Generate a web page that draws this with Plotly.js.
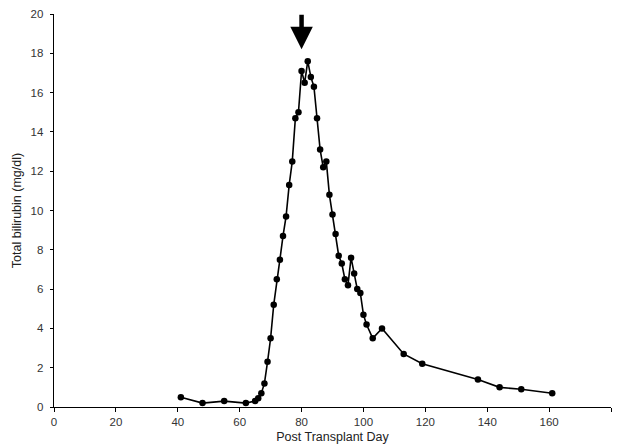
<!DOCTYPE html>
<html>
<head>
<meta charset="utf-8">
<script src="https://cdn.plot.ly/plotly-3.0.1.min.js"></script>
<style>html,body{margin:0;padding:0;background:#fff;}#chart{width:620px;height:448px;}</style>
</head>
<body>
<div id="chart"></div>
<script>
var days = [41, 48, 55, 62, 65, 66, 67, 68, 69, 70, 71, 72, 73, 74, 75, 76, 77, 78, 79, 80, 81, 82, 83, 84, 85, 86, 87, 88, 89, 90, 91, 92, 93, 94, 95, 96, 97, 98, 99, 100, 101, 103, 106, 113, 119, 137, 144, 151, 161];
var bilirubin = [0.5, 0.2, 0.3, 0.2, 0.3, 0.45, 0.7, 1.2, 2.3, 3.5, 5.2, 6.5, 7.5, 8.7, 9.7, 11.3, 12.5, 14.7, 15.0, 17.1, 16.5, 17.6, 16.8, 16.3, 14.7, 13.1, 12.2, 12.5, 10.8, 9.8, 8.8, 7.7, 7.3, 6.5, 6.2, 7.6, 6.8, 6.0, 5.8, 4.7, 4.2, 3.5, 4.0, 2.7, 2.2, 1.4, 1.0, 0.9, 0.7];
var xTicks = [0, 20, 40, 60, 80, 100, 120, 140, 160, 180];
var yTicks = [0, 2, 4, 6, 8, 10, 12, 14, 16, 18, 20];
var arrowDay = 80;
var arrowTip = 18.2;

var trace = {
  x: days, y: bilirubin, type: 'scatter', mode: 'lines+markers',
  line: {color: '#000', width: 1.6},
  marker: {color: '#000', size: 6.5},
  cliponaxis: false, hoverinfo: 'none'
};
var ff = 'Liberation Sans, Arial, sans-serif';
var layout = {
  width: 620, height: 448,
  margin: {l: 54, r: 9, t: 14, b: 41},
  paper_bgcolor: '#fff', plot_bgcolor: '#fff',
  showlegend: false,
  font: {family: ff, size: 11.5, color: '#333'},
  xaxis: {
    range: [0, 180], tickvals: xTicks, ticktext: xTicks.map(String),
    showline: true, linecolor: '#000', linewidth: 1.3,
    ticks: 'outside', ticklen: 4, tickcolor: '#000', showgrid: false, zeroline: false,
    tickfont: {family: ff, size: 11.5, color: '#333'},
    title: {text: 'Post Transplant Day', font: {family: ff, size: 12.5, color: '#222'}, standoff: 5}
  },
  yaxis: {
    range: [0, 20], tickvals: yTicks, ticktext: yTicks.map(String),
    showline: true, linecolor: '#000', linewidth: 1.3,
    ticks: 'outside', ticklen: 3, tickcolor: '#000', showgrid: false, zeroline: false,
    ticklabelstandoff: 4,
    tickfont: {family: ff, size: 11.5, color: '#333'},
    title: {text: 'Total bilirubin (mg/dl)', font: {family: ff, size: 12.5, color: '#222'}, standoff: 6}
  },
  annotations: [{
    x: arrowDay, y: arrowTip, xref: 'x', yref: 'y',
    ax: 0, ay: -36, text: '', showarrow: true,
    arrowhead: 2, arrowsize: 1.0, arrowwidth: 4.5, arrowcolor: '#000'
  }]
};
Plotly.newPlot('chart', [trace], layout, {staticPlot: true, displayModeBar: false});
</script>
</body>
</html>
